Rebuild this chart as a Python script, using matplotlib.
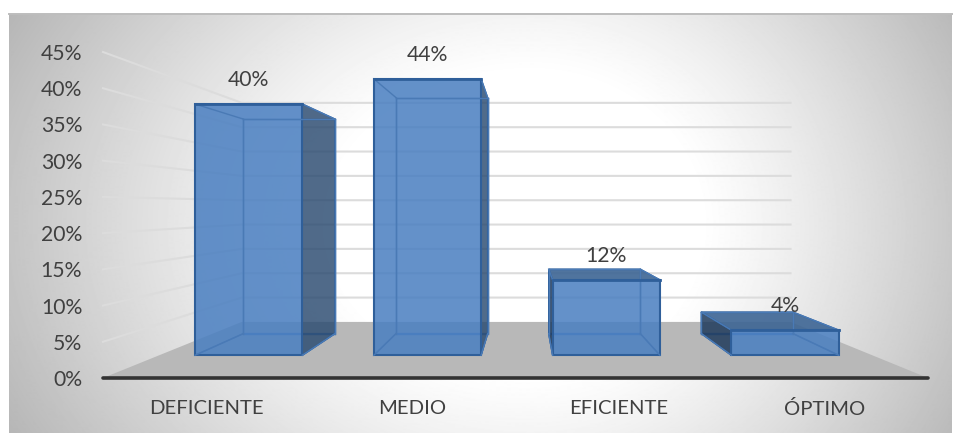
import matplotlib
matplotlib.use("Agg")
import matplotlib.pyplot as plt
import numpy as np
from matplotlib.patches import Polygon, Rectangle

plt.rcParams['font.family'] = ['Lato', 'DejaVu Sans']

categories = ["DEFICIENTE", "MEDIO", "EFICIENTE", "ÓPTIMO"]
values = [40, 44, 12, 4]
value_labels = ["40%", "44%", "12%", "4%"]
y_ticks = [0, 5, 10, 15, 20, 25, 30, 35, 40, 45]
y_tick_labels = ["0%", "5%", "10%", "15%", "20%", "25%", "30%", "35%", "40%", "45%"]

W, H = 955, 436
# perspective: vanishing point in data units, depth given as a scale factor
VP_X = 2.05
VP_Y = 23.6
S_FRONT = 0.867
S_BACK = 0.74
S_WALL = 0.672
BAR_W = 0.6
WALL_END = 3.96


def proj(c, v, s):
    return (VP_X + (c - VP_X) * s, VP_Y + (v - VP_Y) * s)


fig = plt.figure(figsize=(W / 100, H / 100), dpi=100)

# background gradient of the chart area
bg = fig.add_axes([0, 0, 1, 1], zorder=0)
yy, xx = np.mgrid[0:H, 0:W]
rx = np.where(xx < 530, 570.0, 480.0)
dist = np.sqrt(((xx - 530) / rx) ** 2 + ((yy - 225) / 430.0) ** 2)
shade = 1.0 - 0.27 * np.clip((dist - 0.35) / 0.65, 0, 1.2) ** 1.15
bg.imshow(shade, cmap="gray", vmin=0, vmax=1, extent=(0, W, H, 0), aspect="auto")
bg.add_patch(Rectangle((-5, -5), 14, H + 10, fc="white", ec="none"))
bg.add_patch(Rectangle((-5, -5), W + 10, 19, fc="white", ec="none"))
bg.add_patch(Rectangle((952, -5), 10, H + 10, fc="white", ec="none"))
bg.add_patch(Rectangle((-5, 433), W + 10, 10, fc="white", ec="none"))
bg.plot([9, 952], [14.5, 14.5], color="#bdbdbd", lw=1.4)
bg.set_xlim(0, W)
bg.set_ylim(H, 0)
bg.axis("off")

ax = fig.add_axes([103 / W, 1 - 378 / H, 825 / W, 326 / H], zorder=1)
ax.patch.set_alpha(0)
ax.set_xlim(0, 4)
ax.set_ylim(0, 45)
for sp in ax.spines.values():
    sp.set_visible(False)
ax.set_yticks(y_ticks)
ax.set_yticklabels(y_tick_labels, fontsize=15.2, color="#404040")
ax.set_xticks(np.arange(len(categories)) + 0.5)
ax.set_xticklabels(categories, fontsize=14.6, color="#404040")
ax.tick_params(axis="y", length=0, pad=15)
ax.tick_params(axis="x", length=0, pad=16)

# floor
floor = [proj(0, 0, 1), proj(0, 0, S_WALL), proj(WALL_END, 0, S_WALL), proj(4, 0, 1)]
ax.add_patch(Polygon(floor, fc="#b8b8b8", ec="none", zorder=1, clip_on=False))

# wall gridlines
for t in y_ticks[1:]:
    p0 = proj(0, t, 1)
    p1 = proj(0, t, S_WALL)
    p2 = proj(WALL_END, t, S_WALL)
    ax.plot([p0[0], p1[0], p2[0]], [p0[1], p1[1], p2[1]], color="#dcdcdc", lw=1.5,
            zorder=2, clip_on=False, solid_joinstyle="miter")

ax.plot([0, 4], [0, 0], color="#333333", lw=2.6, solid_capstyle="round", zorder=3, clip_on=False)

blue = "#4a7fc1"
edge = "#2f5f9a"
for i, v in enumerate(values):
    l = i + 0.5 - BAR_W / 2
    r = i + 0.5 + BAR_W / 2
    fbl, fbr = proj(l, 0, S_FRONT), proj(r, 0, S_FRONT)
    ftl, ftr = proj(l, v, S_FRONT), proj(r, v, S_FRONT)
    bbl, bbr = proj(l, 0, S_BACK), proj(r, 0, S_BACK)
    btl, btr = proj(l, v, S_BACK), proj(r, v, S_BACK)

    def face(pts, fc, alpha, z, ec=edge, lw=1.0):
        ax.add_patch(Polygon(pts, fc=matplotlib.colors.to_rgba(fc, alpha), ec=ec, lw=lw,
                             zorder=z, clip_on=False))

    # back and bottom sit behind everything else
    face([bbl, bbr, btr, btl], blue, 0.0, 4, ec="#4a7ab5")
    face([fbl, fbr, bbr, bbl], blue, 0.0, 4, ec="#4a7ab5")
    # sides go dark only when they stick out past the front face
    if bbr[0] > fbr[0]:
        face([fbr, bbr, btr, ftr], "#2a4a70", 0.82, 5)
    if bbl[0] < fbl[0]:
        face([fbl, bbl, btl, ftl], "#1f3a5c", 0.85, 5)
    # top face is only seen from above on the short bars
    if btl[1] > ftl[1]:
        face([ftl, ftr, btr, btl], "#3d6594", 0.9, 6)
    face([fbl, fbr, ftr, ftl], blue, 0.86, 7, lw=1.5)
    # thin inner edges seen through the front face
    for a, b in [(fbl, bbl), (fbr, bbr), (ftl, btl), (ftr, btr), (bbl, btl), (bbr, btr), (btl, btr)]:
        ax.plot([a[0], b[0]], [a[1], b[1]], color="#4a7ab5", lw=1.0, zorder=8, clip_on=False)
    ax.plot([ftl[0], ftr[0]], [ftl[1], ftr[1]], color=edge, lw=2, zorder=9, clip_on=False)

    lab = proj(i + 0.5, v, S_FRONT)
    ax.annotate(value_labels[i], lab, xytext=(0, 17.3), textcoords="offset points", ha="center",
                va="center", fontsize=15.2, color="#404040", zorder=10, annotation_clip=False)

fig.savefig("out.png", dpi=100)
